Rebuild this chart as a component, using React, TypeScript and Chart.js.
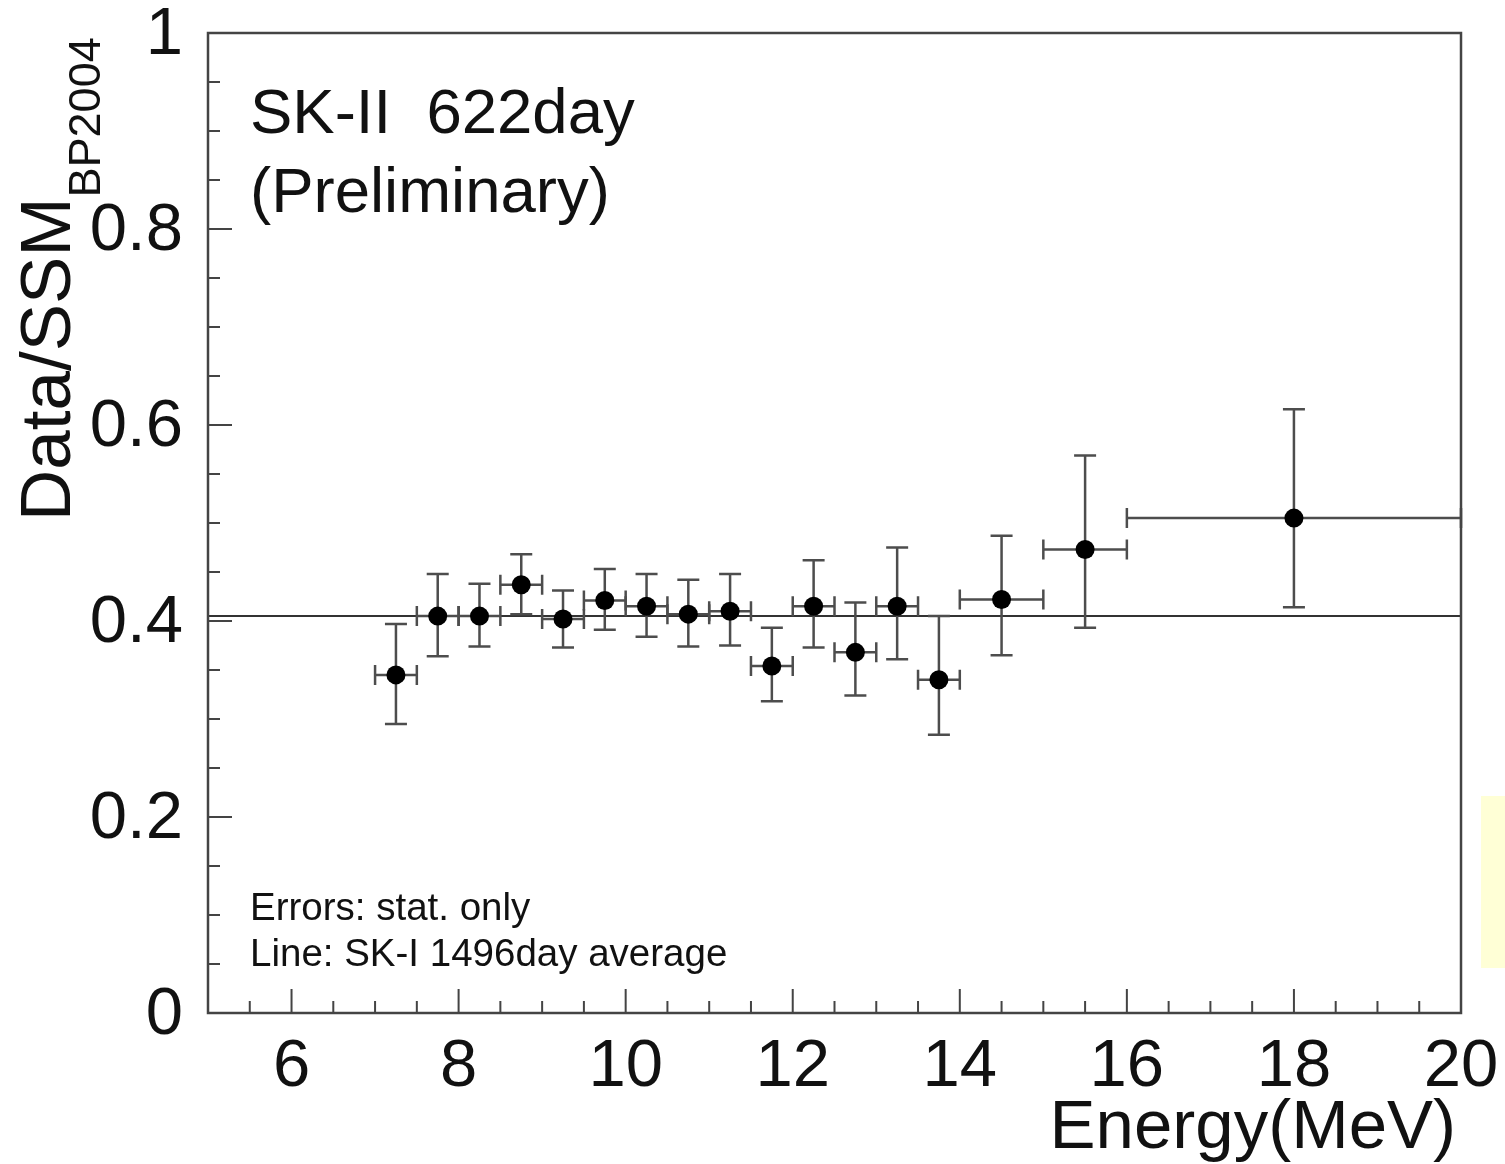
import React, { useEffect, useRef } from "react";
import { Chart, registerables } from "chart.js";

Chart.register(...registerables);

// ---- data ----
const energyCenter = [7.25, 7.75, 8.25, 8.75, 9.25, 9.75, 10.25, 10.75, 11.25, 11.75, 12.25, 12.75, 13.25, 13.75, 14.5, 15.5, 18];
const binLow = [7.0, 7.5, 8.0, 8.5, 9.0, 9.5, 10.0, 10.5, 11.0, 11.5, 12.0, 12.5, 13.0, 13.5, 14, 15, 16];
const binHigh = [7.5, 8.0, 8.5, 9.0, 9.5, 10.0, 10.5, 11.0, 11.5, 12.0, 12.5, 13.0, 13.5, 14.0, 15, 16, 20];
const ratio = [0.345, 0.405, 0.405, 0.437, 0.402, 0.421, 0.415, 0.407, 0.410, 0.354, 0.415, 0.368, 0.415, 0.340, 0.422, 0.473, 0.505];
const statHigh = [0.397, 0.448, 0.438, 0.468, 0.431, 0.453, 0.448, 0.442, 0.448, 0.393, 0.462, 0.419, 0.475, 0.405, 0.487, 0.569, 0.616];
const statLow = [0.295, 0.364, 0.374, 0.407, 0.373, 0.391, 0.384, 0.374, 0.375, 0.318, 0.373, 0.324, 0.361, 0.284, 0.365, 0.393, 0.414];
const skIAverage = 0.405;

const xTickValues = [6, 8, 10, 12, 14, 16, 18, 20];
const yTickValues = [0, 0.2, 0.4, 0.6, 0.8, 1];

const FONT = "'Liberation Sans', Arial, Helvetica, sans-serif";

const decor = {
  id: "decor",
  beforeDatasetsDraw(chart: any) {
    const { ctx, chartArea: ca, scales } = chart;
    const x = scales.x;
    const y = scales.y;
    ctx.save();
    // SK-I average line
    ctx.strokeStyle = "#333";
    ctx.lineWidth = 2;
    const ly = y.getPixelForValue(skIAverage);
    ctx.beginPath();
    ctx.moveTo(ca.left, ly);
    ctx.lineTo(ca.right, ly);
    ctx.stroke();
    // error bars
    ctx.strokeStyle = "#4d4d4d";
    ctx.lineWidth = 2.5;
    for (let i = 0; i < energyCenter.length; i++) {
      const px = x.getPixelForValue(energyCenter[i]);
      const py = y.getPixelForValue(ratio[i]);
      const xl = x.getPixelForValue(binLow[i]);
      const xh = x.getPixelForValue(binHigh[i]);
      const yt = y.getPixelForValue(statHigh[i]);
      const yb = y.getPixelForValue(statLow[i]);
      ctx.beginPath();
      ctx.moveTo(px, yt);
      ctx.lineTo(px, yb);
      ctx.moveTo(px - 11, yt);
      ctx.lineTo(px + 11, yt);
      ctx.moveTo(px - 11, yb);
      ctx.lineTo(px + 11, yb);
      ctx.moveTo(xl, py);
      ctx.lineTo(xh, py);
      ctx.moveTo(xl, py - 10);
      ctx.lineTo(xl, py + 10);
      ctx.moveTo(xh, py - 10);
      ctx.lineTo(xh, py + 10);
      ctx.stroke();
    }
    ctx.restore();
  },
  afterDraw(chart: any) {
    const { ctx, chartArea: ca, scales } = chart;
    const x = scales.x;
    const y = scales.y;
    ctx.save();
    // frame
    ctx.strokeStyle = "#444";
    ctx.lineWidth = 2.5;
    ctx.strokeRect(ca.left, ca.top, ca.right - ca.left, ca.bottom - ca.top);
    // inward ticks
    ctx.lineWidth = 2;
    ctx.beginPath();
    for (let k = 0; k <= 20; k++) {
      const v = k * 0.05;
      const py = y.getPixelForValue(v);
      const len = k % 4 === 0 ? 24 : 12;
      ctx.moveTo(ca.left, py);
      ctx.lineTo(ca.left + len, py);
    }
    for (let k = 0; k <= 30; k++) {
      const v = 5 + k * 0.5;
      const px = x.getPixelForValue(v);
      const len = v % 2 === 0 ? 24 : 12;
      ctx.moveTo(px, ca.bottom);
      ctx.lineTo(px, ca.bottom - len);
    }
    ctx.stroke();

    // texts
    ctx.fillStyle = "#111";
    ctx.textAlign = "left";
    ctx.textBaseline = "alphabetic";
    ctx.font = `63.5px ${FONT}`;
    ctx.fillText("SK-II  622day", 250, 133);
    ctx.fillText("(Preliminary)", 250, 212);
    ctx.font = `38.5px ${FONT}`;
    ctx.fillText("Errors: stat. only", 250, 920);
    ctx.fillText("Line: SK-I 1496day average", 250, 966);

    // x title
    ctx.font = `69px ${FONT}`;
    ctx.textAlign = "right";
    ctx.fillText("Energy(MeV)", 1456, 1148);

    // y title with subscript
    ctx.save();
    ctx.translate(70, 521);
    ctx.rotate(-Math.PI / 2);
    ctx.textAlign = "left";
    ctx.font = `71px ${FONT}`;
    ctx.fillText("Data/SSM", 0, 0);
    const w = ctx.measureText("Data/SSM").width;
    ctx.font = `45px ${FONT}`;
    ctx.fillText("BP2004", w, 30);
    ctx.restore();

    // cropped yellow box at the right edge
    ctx.fillStyle = "#ffffd6";
    ctx.fillRect(1481, 796, 30, 172);
    ctx.restore();
  },
};

const zeroPadding = (s: any) => {
  s.paddingTop = 0;
  s.paddingBottom = 0;
  s.paddingLeft = 0;
  s.paddingRight = 0;
};

export default function App() {
  const ref = useRef<HTMLCanvasElement | null>(null);
  useEffect(() => {
    if (!ref.current) return;
    const chart = new Chart(ref.current, {
      type: "scatter",
      data: {
        datasets: [
          {
            data: energyCenter.map((e, i) => ({ x: e, y: ratio[i] })),
            backgroundColor: "#000",
            borderColor: "#000",
            pointRadius: 9.5,
            pointBorderWidth: 0,
            showLine: false,
          },
        ],
      },
      options: {
        animation: false,
        responsive: false,
        devicePixelRatio: 1,
        layout: { padding: { top: 33, right: 44, left: 0, bottom: 0 }, autoPadding: false } as any,
        plugins: { legend: { display: false }, tooltip: { enabled: false } },
        scales: {
          x: {
            type: "linear",
            min: 5,
            max: 20,
            grid: { display: false, drawTicks: false },
            border: { display: false },
            afterBuildTicks: (s: any) => {
              s.ticks = xTickValues.map((v) => ({ value: v }));
            },
            afterFit: (s: any) => {
              s.height = 151;
              zeroPadding(s);
            },
            ticks: {
              font: { family: FONT, size: 67 },
              color: "#111",
              padding: 14,
              maxRotation: 0,
              autoSkip: false,
              callback: (v: any) => String(v),
            },
          },
          y: {
            type: "linear",
            min: 0,
            max: 1,
            grid: { display: false, drawTicks: false },
            border: { display: false },
            afterBuildTicks: (s: any) => {
              s.ticks = yTickValues.map((v) => ({ value: v }));
            },
            afterFit: (s: any) => {
              s.width = 208;
              zeroPadding(s);
            },
            ticks: {
              font: { family: FONT, size: 67 },
              color: "#111",
              padding: 25,
              labelOffset: 3,
              autoSkip: false,
              callback: (v: any) => String(Math.round(Number(v) * 10) / 10),
            },
          },
        },
      },
      plugins: [decor],
    });
    return () => chart.destroy();
  }, []);
  return (
    <div style={{ position: "absolute", left: 0, top: 0, width: 1505, height: 1164, background: "#fff" }}>
      <canvas ref={ref} width={1505} height={1164} style={{ display: "block" }} />
    </div>
  );
}
